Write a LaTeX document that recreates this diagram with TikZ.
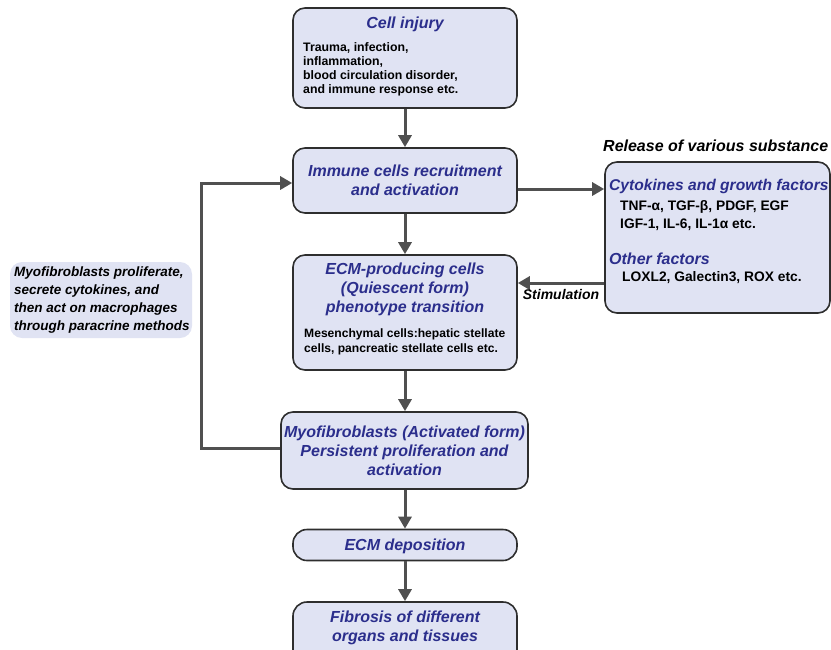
\documentclass[tikz,border=0pt]{standalone}
\usepackage{fontspec}
\setmainfont{Liberation Sans}
\usetikzlibrary{arrows.meta}
\definecolor{boxfill}{HTML}{E0E3F3}
\definecolor{ttl}{HTML}{2B2E8C}
\definecolor{lin}{HTML}{505050}
\definecolor{brd}{HTML}{2E2E2E}
\begin{document}
\begin{tikzpicture}[x=1pt,y=-1pt,
  box/.style={draw=brd, line width=1.6pt, fill=boxfill, rounded corners=12pt, inner sep=0pt},
  ttlt/.style={font=\fontsize{16}{19}\selectfont\bfseries\itshape, text=ttl, align=center, inner sep=0pt},
  bodyt/.style={font=\fontsize{12.3}{14}\selectfont\bfseries, text=black, align=left, inner sep=0pt, anchor=west},
  rbody/.style={font=\fontsize{13.8}{18}\selectfont\bfseries, text=black, align=left, inner sep=0pt, anchor=west},
  arr/.style={draw=lin, line width=3pt, -{Triangle[length=12pt,width=13pt]}},
]
\useasboundingbox (0,0) rectangle (831,649);
\clip (0,0) rectangle (831,649);

% boxes
\node[box, minimum width=224, minimum height=100] (inj) at (405,58) {};
\node[box, minimum width=224, minimum height=65] (imm) at (405,180.5) {};
\node[box, minimum width=224, minimum height=115] (ecm) at (405,312.5) {};
\node[box, minimum width=247, minimum height=77] (myo) at (404.5,450.5) {};
\node[box, minimum width=224, minimum height=31, rounded corners=14pt] (dep) at (405,545) {};
\node[box, minimum width=224, minimum height=66, rounded corners=14pt] (fib) at (405,635) {};
\node[box, minimum width=225, minimum height=151] (rb) at (717.5,237.5) {};
\node[fill=boxfill, rounded corners=12pt, minimum width=182, minimum height=76, inner sep=0pt] (lt) at (101,300) {};

% texts
\node[ttlt] (injt) at (405,24) {Cell injury};
\node[bodyt] (injb) at (303,69.5) {Trauma, infection,\\inflammation,\\blood circulation disorder,\\and immune response etc.};
\node[ttlt] (immt) at (405,180.5) {Immune cells recruitment\\and activation};
\node[ttlt] (ecmt) at (405,289) {ECM-producing cells\\(Quiescent form)\\phenotype transition};
\node[bodyt, font=\fontsize{12.1}{15}\selectfont\bfseries] (ecmb) at (304,341.5) {Mesenchymal cells:hepatic stellate\\cells, pancreatic stellate cells etc.};
\node[ttlt] (myot) at (404.5,450.5) {Myofibroblasts (Activated form)\\Persistent proliferation and\\activation};
\node[ttlt] (dept) at (405,546) {ECM deposition};
\node[ttlt] (fibt) at (405,627.5) {Fibrosis of different\\organs and tissues};

\node[ttlt, anchor=west, font=\fontsize{15.6}{19}\selectfont\bfseries\itshape] (rbt1) at (609,186) {Cytokines and growth factors};
\node[rbody] (rbb1) at (620,216) {TNF-α, TGF-β, PDGF, EGF\\IGF-1, IL-6, IL-1α etc.};
\node[ttlt, anchor=west] (rbt2) at (609,259) {Other factors};
\node[rbody] (rbb2) at (622,277.5) {LOXL2, Galectin3, ROX etc.};

\node[font=\fontsize{16}{19}\selectfont\bfseries\itshape, inner sep=0pt, anchor=west] (rel) at (603,146) {Release of various substance};
\node[font=\fontsize{13.5}{17.7}\selectfont\bfseries\itshape, inner sep=0pt, anchor=west, align=left] (ltt) at (14,300) {Myofibroblasts proliferate,\\secrete cytokines, and\\then act on macrophages\\through paracrine methods};

% connectors
\draw[arr] (inj.south) -- (imm.north);
\draw[arr] (imm.south) -- (ecm.north);
\draw[arr] (ecm.south) -- (myo.north -| ecm.south);
\draw[arr] (myo.south -| dep.north) -- (dep.north);
\draw[arr] (dep.south) -- (fib.north);
\draw[arr] (imm.east |- 0,189) -- (rb.west |- 0,189);
\draw[arr] (rb.west |- 0,283) -- node[below=5pt, font=\fontsize{14}{16}\selectfont\bfseries\itshape, text=black, inner sep=0pt] (stim) {Stimulation} (ecm.east |- 0,283);
\draw[arr] (myo.west |- 0,448) -- (201,448) |- (imm.west |- 0,183);
\end{tikzpicture}
\end{document}
